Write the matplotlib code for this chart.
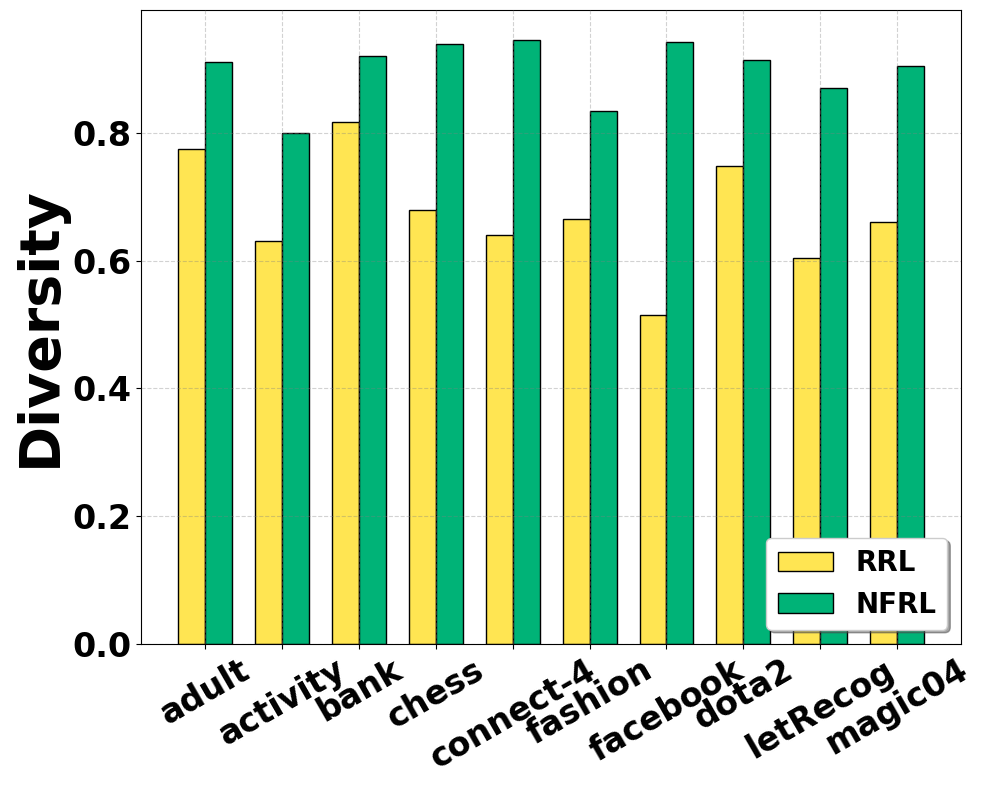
import matplotlib
matplotlib.use("Agg")
import matplotlib.pyplot as plt
import numpy as np

datasets = ["adult", "activity", "bank", "chess", "connect-4", "fashion",
            "facebook", "dota2", "letRecog", "magic04"]
rrl = [0.775, 0.631, 0.818, 0.680, 0.641, 0.666, 0.515, 0.748, 0.604, 0.660]
nfrl = [0.912, 0.800, 0.920, 0.939, 0.945, 0.834, 0.942, 0.914, 0.870, 0.905]

fig = plt.figure(figsize=(9.86, 7.9), dpi=100)
ax = fig.add_axes([0.143, 0.185, 0.832, 0.802])

x = np.arange(len(datasets))
w = 0.35
ax.bar(x - w/2, rrl, w, color="#FFE552", edgecolor="black", linewidth=1, label="RRL")
ax.bar(x + w/2, nfrl, w, color="#00B377", edgecolor="black", linewidth=1, label="NFRL")

ax.set_ylim(0, max(nfrl) * 1.05)
ax.set_xticks(x)
ax.set_xticklabels(datasets, rotation=30, fontsize=24, fontweight="bold")
ax.set_yticks([0.0, 0.2, 0.4, 0.6, 0.8])
ax.set_yticklabels(["0.0", "0.2", "0.4", "0.6", "0.8"], fontsize=24, fontweight="bold")
ax.set_ylabel("Diversity", fontsize=40, fontweight="bold")
ax.grid(True, linestyle="--", color="gray", alpha=0.35)
ax.set_axisbelow(False)
leg = ax.legend(loc="lower right", prop={"size": 20, "weight": "bold"},
                shadow=True, fancybox=True)

fig.savefig("out.png", dpi=100)
